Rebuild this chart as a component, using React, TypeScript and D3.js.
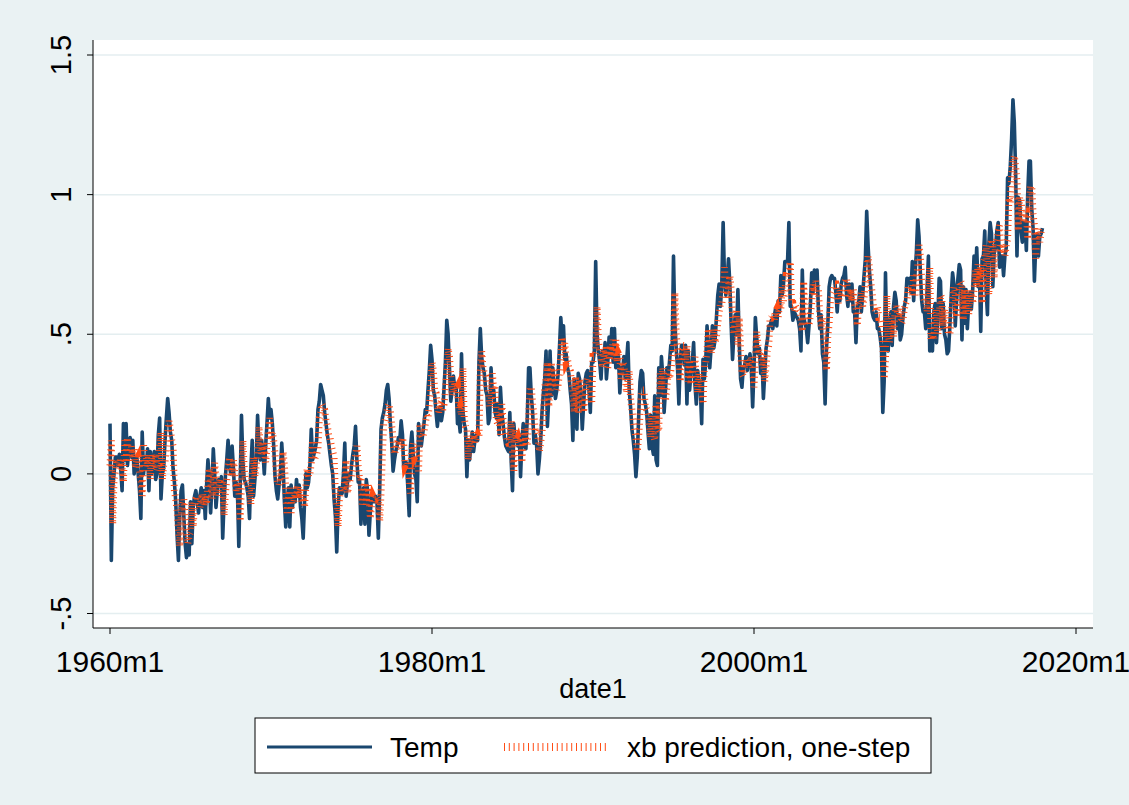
import { useEffect, useRef } from 'react';
import * as d3 from 'd3';

// monthly values in hundredths, 1960m1 .. 2017m12
const temp1960s = [
  18, -31, -5, 0, 6, 6, 3, 7, 2, -6, 18, 5,
  18, 3, 8, 13, 6, 12, 0, 5, 6, 0, -6, -16,
  15, 0, 6, 2, 9, -6, 8, 0, 4, 8, -2, 0,
  14, 20, -9, 0, 2, 12, 20, 27, 22, 15, 12, 2,
  -3, -10, -22, -31, -15, -6, -4, -15, -25, -30, -25, -29,
  -10, -25, -12, -8, -6, -10, -14, -8, -5, -12, -6, -16,
  -4, 5, -2, -14, -4, 9, 0, -12, -6, -2, -4, -1,
  -23, -10, -1, 5, 12, 3, 0, 10, 2, -8, -3, -6,
  -26, -5, 21, 5, -2, -3, -5, -8, -16, 2, 12, -8,
  -2, 5, 21, 10, 5, 12, 8, 0, 10, 18, 27, 20,
];
const temp1970s = [
  23, 18, 10, -1, -6, -9, -4, 0, 11, 3, -10, -19,
  -10, -5, -19, -4, -12, -6, -10, -2, -8, -4, -12, -16,
  -23, -10, 0, -5, -3, 3, 16, 5, 7, 9, 12, 23,
  26, 32, 30, 28, 22, 18, 14, 11, 7, 3, 0, -9,
  -15, -28, -12, -5, -6, -7, 0, 11, -8, -3, 0, -2,
  3, 7, 10, 17, 5, -3, -2, -18, -10, -5, -18, -2,
  -6, -22, -14, -8, -10, -10, -8, -10, -23, -6, 16, 20,
  22, 25, 30, 32, 27, 18, 11, 1, 5, 8, 10, 13,
  12, 19, 14, 1, 4, 4, -5, -15, 10, 15, 7, 0,
  -2, -10, 18, 12, 10, 14, 18, 23, 22, 30, 37, 46,
];
const temp1980s = [
  41, 30, 28, 22, 17, 22, 24, 19, 22, 31, 40, 55,
  50, 38, 26, 30, 35, 30, 32, 18, 20, 15, 43, 23,
  18, 16, -1, 12, 5, 10, 15, 8, 12, 14, 12, 40,
  52, 42, 38, 36, 30, 28, 18, 20, 38, 28, 30, 22,
  20, 25, 14, 31, 22, 18, 13, 10, 9, 8, 22, 5,
  -6, 18, 12, 13, 10, 14, -1, 12, 18, 10, 9, 20,
  38, 38, 28, 22, 11, 14, 10, 0, 5, 12, 22, 29,
  34, 44, 17, 27, 44, 28, 38, 32, 27, 30, 36, 45,
  56, 48, 53, 41, 43, 38, 36, 30, 25, 12, 34, 22,
  16, 36, 34, 28, 16, 25, 33, 36, 37, 30, 22, 40,
];
const temp1990s = [
  40, 44, 76, 50, 44, 40, 34, 44, 40, 47, 34, 40,
  49, 42, 52, 40, 52, 38, 44, 42, 29, 38, 36, 42,
  34, 40, 47, 30, 24, 16, 12, 7, -1, 6, 20, 33,
  37, 36, 27, 25, 22, 15, 9, 21, 10, 7, 28, 5,
  3, 38, 28, 42, 35, 22, 30, 38, 35, 40, 46, 44,
  78, 54, 45, 38, 25, 40, 46, 46, 39, 46, 25, 44,
  30, 36, 40, 47, 32, 25, 37, 33, 30, 18, 41, 34,
  40, 53, 45, 38, 45, 53, 45, 48, 56, 64, 68, 60,
  68, 90, 70, 64, 70, 77, 68, 53, 41, 50, 57, 50,
  66, 47, 34, 31, 38, 39, 42, 37, 40, 43, 38, 24,
];
const temp2000s = [
  38, 56, 49, 43, 45, 36, 41, 27, 36, 45, 48, 53,
  53, 55, 52, 56, 59, 53, 62, 58, 71, 64, 68, 76,
  76, 76, 90, 60, 60, 55, 58, 57, 56, 55, 52, 44,
  73, 56, 54, 52, 47, 53, 60, 72, 65, 73, 70, 73,
  59, 52, 57, 43, 40, 25, 45, 53, 67, 70, 71, 70,
  70, 65, 58, 66, 62, 68, 70, 71, 74, 64, 60, 68,
  62, 68, 58, 58, 47, 60, 61, 67, 58, 64, 71, 77,
  94, 82, 73, 67, 58, 56, 55, 58, 52, 52, 49, 45,
  22, 33, 72, 48, 44, 54, 58, 46, 60, 65, 62, 52,
  57, 48, 50, 56, 60, 62, 70, 69, 70, 65, 76, 62,
];
const temp2010s = [
  72, 79, 91, 85, 72, 62, 58, 58, 52, 66, 78, 44,
  46, 44, 58, 61, 47, 55, 70, 69, 52, 61, 50, 48,
  43, 44, 53, 64, 72, 68, 53, 62, 70, 75, 73, 48,
  67, 54, 66, 52, 61, 65, 59, 66, 78, 69, 81, 67,
  73, 51, 77, 78, 87, 66, 57, 82, 90, 86, 67, 79,
  81, 87, 90, 74, 78, 78, 71, 78, 81, 106, 104, 110,
  120, 134, 126, 108, 78, 99, 98, 87, 83, 90, 90, 80,
  100, 112, 112, 95, 88, 69, 82, 86, 78, 85, 86, 88,
];

// xb prediction, one-step (hundredths)
const pred1960s = [
  3, 12, -18, -2, 1, 5, 5, 3, 5, 2, -3, 12,
  5, 13, 4, 7, 10, 6, 9, 2, 5, 6, 2, -2,
  -8, 11, 2, 6, 3, 7, -2, 7, 2, 4, 7, 1,
  3, 11, 15, -2, 3, 4, 10, 15, 19, 16, 12, 10,
  -6, -9, -13, -20, -26, -16, -11, -9, -16, -22, -25, -22,
  -21, -10, -19, -11, -9, -8, -10, -12, -9, -7, -11, -8,
  -11, -3, 2, -2, -9, -3, 4, -1, -8, -5, -2, -3,
  -2, -15, -7, -2, 2, 6, 1, -1, 5, 0, -6, -3,
  -5, -17, -4, 12, 2, -2, -3, -4, -6, -11, 0, 6,
  -1, 3, 7, 17, 10, 7, 11, 9, 4, 10, 15, 20,
];
const pred1970s = [
  13, 15, 12, 7, 0, -3, -4, -1, 1, 8, 3, -5,
  -14, -9, -6, -14, -5, -10, -7, -9, -4, -8, -5, -10,
  -8, -12, -4, 2, -1, 0, 4, 12, 5, 6, 7, 9,
  20, 22, 25, 24, 23, 19, 17, 14, 13, 10, 8, 6,
  -7, -11, -19, -9, -5, -6, -6, -2, 5, -7, -4, -2,
  -1, 2, 4, 6, 10, 3, -2, -1, -11, -6, -3, -11,
  -4, -7, -16, -11, -8, -9, -9, -8, -9, -17, -7, 7,
  18, 19, 21, 24, 25, 22, 17, 13, 7, 9, 11, 12,
  10, 9, 13, 10, 3, 4, 4, -1, -7, 8, 11, 6,
  7, 6, 1, 18, 14, 13, 15, 18, 21, 20, 25, 29,
];
const pred1980s = [
  40, 37, 30, 29, 25, 22, 25, 26, 23, 25, 31, 36,
  45, 42, 35, 28, 30, 33, 30, 31, 23, 24, 21, 38,
  20, 17, 16, 5, 13, 9, 12, 15, 11, 13, 14, 13,
  37, 44, 38, 36, 35, 31, 30, 24, 25, 36, 30, 31,
  19, 18, 21, 14, 25, 19, 17, 14, 12, 11, 11, 19,
  8, 1, 16, 12, 13, 11, 13, 4, 12, 16, 11, 10,
  20, 31, 31, 25, 21, 15, 16, 14, 8, 11, 15, 21,
  31, 34, 40, 24, 30, 40, 31, 37, 33, 30, 32, 36,
  42, 49, 44, 47, 40, 41, 38, 37, 33, 30, 22, 35,
  25, 22, 34, 32, 29, 22, 27, 32, 34, 34, 30, 25,
];
const pred1990s = [
  42, 42, 44, 60, 48, 44, 42, 38, 44, 42, 46, 38,
  41, 46, 42, 48, 41, 48, 40, 43, 42, 34, 40, 39,
  34, 29, 33, 37, 27, 23, 19, 16, 13, 8, 13, 21,
  28, 30, 30, 24, 23, 21, 17, 13, 21, 14, 12, 25,
  16, 15, 36, 30, 38, 34, 26, 31, 36, 34, 37, 41,
  44, 65, 50, 45, 41, 33, 42, 46, 46, 41, 46, 33,
  40, 32, 36, 38, 42, 33, 29, 36, 34, 32, 25, 39,
  40, 44, 52, 47, 43, 47, 52, 47, 49, 54, 58, 61,
  61, 66, 74, 67, 63, 67, 71, 66, 57, 50, 55, 59,
  46, 56, 44, 36, 35, 39, 39, 41, 38, 40, 42, 39,
];
const pred2000s = [
  31, 40, 51, 46, 43, 44, 39, 42, 33, 39, 44, 46,
  56, 56, 57, 55, 58, 59, 56, 61, 59, 67, 62, 65,
  71, 71, 71, 76, 61, 61, 58, 60, 59, 59, 58, 56,
  51, 69, 59, 57, 56, 53, 57, 61, 68, 64, 69, 67,
  66, 57, 53, 56, 48, 46, 37, 49, 54, 62, 64, 65,
  68, 68, 65, 61, 66, 63, 67, 68, 69, 70, 64, 62,
  66, 62, 66, 60, 60, 53, 61, 62, 65, 60, 63, 68,
  71, 78, 74, 69, 65, 60, 59, 58, 60, 56, 56, 54,
  48, 34, 41, 64, 50, 47, 53, 56, 49, 57, 60, 58,
  56, 59, 54, 55, 59, 61, 62, 67, 66, 67, 64, 71,
];
const pred2010s = [
  64, 70, 74, 82, 78, 70, 64, 62, 62, 58, 67, 74,
  48, 50, 48, 57, 59, 50, 55, 64, 63, 53, 59, 52,
  53, 50, 50, 56, 62, 67, 65, 56, 61, 66, 69, 68,
  55, 66, 58, 66, 57, 63, 65, 61, 66, 73, 67, 75,
  70, 74, 61, 76, 77, 82, 70, 64, 79, 84, 82, 70,
  82, 84, 87, 89, 79, 82, 82, 78, 82, 84, 99, 97,
  106, 112, 114, 110, 105, 87, 99, 99, 92, 90, 94, 94,
  84, 96, 103, 103, 93, 89, 77, 85, 88, 83, 87, 88,
];

const yTicks = [-0.5, 0, 0.5, 1, 1.5];
const yTickLabels = ['-.5', '0', '.5', '1', '1.5'];
const xTicks = [0, 240, 480, 720]; // months after 1960m1
const xTickLabels = ['1960m1', '1980m1', '2000m1', '2020m1'];
const seriesNames = ['Temp', 'xb prediction, one-step'];

const temp = [...temp1960s, ...temp1970s, ...temp1980s, ...temp1990s, ...temp2000s, ...temp2010s].map((v) => v / 100);
const pred = [...pred1960s, ...pred1970s, ...pred1980s, ...pred1990s, ...pred2000s, ...pred2010s].map((v) => v / 100);

const W = 1129;
const H = 805;
const NAVY = '#1a476f';
const ORANGE = '#ff4c14';
const FONT = "'Liberation Sans', Arial, sans-serif";

export default function App() {
  const ref = useRef<SVGSVGElement | null>(null);

  useEffect(() => {
    if (!ref.current) return;
    const svg = d3.select(ref.current);
    svg.selectAll('*').remove();

    const x = d3.scaleLinear().domain([0, 720]).range([110, 1076]);
    const y = d3.scaleLinear().domain([-0.5, 1.5]).range([613.5, 55]);
    const plot = { left: 93, right: 1093, top: 40, bottom: 628 };

    svg.append('rect').attr('width', W).attr('height', H).attr('fill', '#eaf2f3');
    svg
      .append('rect')
      .attr('x', plot.left)
      .attr('y', plot.top)
      .attr('width', plot.right - plot.left)
      .attr('height', plot.bottom - plot.top)
      .attr('fill', '#fff');

    // grid
    svg
      .append('g')
      .selectAll('line')
      .data(yTicks)
      .enter()
      .append('line')
      .attr('x1', plot.left)
      .attr('x2', plot.right)
      .attr('y1', (d) => y(d))
      .attr('y2', (d) => y(d))
      .attr('stroke', '#e4eef0')
      .attr('stroke-width', 1.5);

    // series
    const line = d3
      .line<number>()
      .x((_d, i) => x(i))
      .y((d) => y(d));

    svg
      .append('path')
      .datum(temp)
      .attr('d', line)
      .attr('fill', 'none')
      .attr('stroke', NAVY)
      .attr('stroke-width', 3.6)
      .attr('stroke-linejoin', 'round');

    svg
      .append('path')
      .datum(pred)
      .attr('d', line)
      .attr('fill', 'none')
      .attr('stroke', ORANGE)
      .attr('stroke-width', 7)
      .attr('stroke-dasharray', '1 4')
      .attr('stroke-linecap', 'butt');

    // axes
    const axis = svg.append('g').attr('stroke', '#000').attr('stroke-width', 1);
    axis.append('line').attr('x1', plot.left).attr('x2', plot.left).attr('y1', plot.top).attr('y2', plot.bottom);
    axis.append('line').attr('x1', plot.left).attr('x2', plot.right).attr('y1', plot.bottom).attr('y2', plot.bottom);
    axis
      .selectAll('.yt')
      .data(yTicks)
      .enter()
      .append('line')
      .attr('x1', plot.left - 6)
      .attr('x2', plot.left)
      .attr('y1', (d) => y(d))
      .attr('y2', (d) => y(d));
    axis
      .selectAll('.xt')
      .data(xTicks)
      .enter()
      .append('line')
      .attr('x1', (d) => x(d))
      .attr('x2', (d) => x(d))
      .attr('y1', plot.bottom)
      .attr('y2', plot.bottom + 6);

    svg
      .append('g')
      .selectAll('text')
      .data(yTicks)
      .enter()
      .append('text')
      .attr('transform', (d) => `translate(71,${y(d)}) rotate(-90)`)
      .attr('text-anchor', 'middle')
      .attr('font-family', FONT)
      .attr('font-size', 29)
      .text((_d, i) => yTickLabels[i]);

    svg
      .append('g')
      .selectAll('text')
      .data(xTicks)
      .enter()
      .append('text')
      .attr('x', (d) => x(d))
      .attr('y', 672)
      .attr('text-anchor', 'middle')
      .attr('font-family', FONT)
      .attr('font-size', 30)
      .text((_d, i) => xTickLabels[i]);

    svg
      .append('text')
      .attr('x', (plot.left + plot.right) / 2)
      .attr('y', 698)
      .attr('text-anchor', 'middle')
      .attr('font-family', FONT)
      .attr('font-size', 27)
      .text('date1');

    // legend
    const lg = svg.append('g');
    lg.append('rect')
      .attr('x', 255)
      .attr('y', 718)
      .attr('width', 676)
      .attr('height', 55)
      .attr('fill', '#fff')
      .attr('stroke', '#000')
      .attr('stroke-width', 1);
    lg.append('line').attr('x1', 267).attr('x2', 372).attr('y1', 747).attr('y2', 747).attr('stroke', NAVY).attr('stroke-width', 3);
    lg.append('line')
      .attr('x1', 504)
      .attr('x2', 608)
      .attr('y1', 747)
      .attr('y2', 747)
      .attr('stroke', ORANGE)
      .attr('stroke-width', 8)
      .attr('stroke-dasharray', '1 3.8');
    lg.append('text').attr('x', 390).attr('y', 757).attr('font-family', FONT).attr('font-size', 28).text(seriesNames[0]);
    lg.append('text').attr('x', 627).attr('y', 757).attr('font-family', FONT).attr('font-size', 28).text(seriesNames[1]);
  }, []);

  return (
    <svg
      ref={ref}
      width={W}
      height={H}
      style={{ position: 'absolute', left: 0, top: 0, display: 'block' }}
    />
  );
}
